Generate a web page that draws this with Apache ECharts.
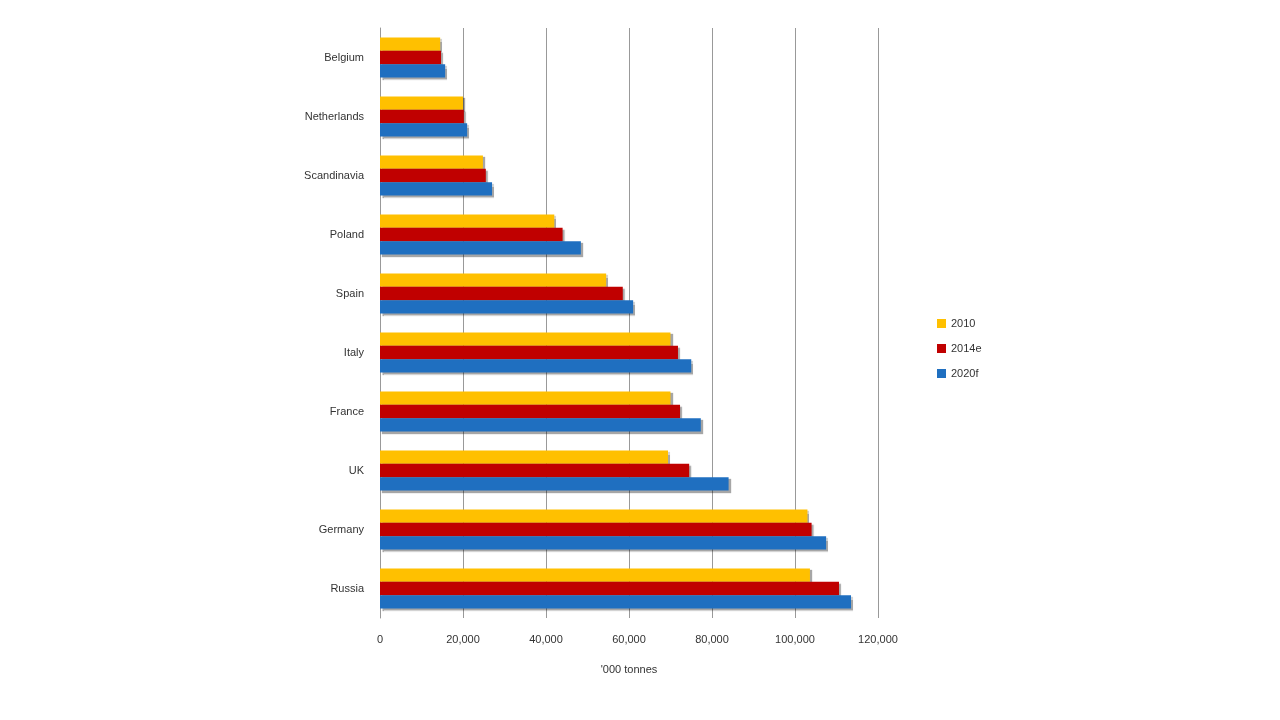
<!DOCTYPE html>
<html><head><meta charset="utf-8">
<script src="https://cdn.jsdelivr.net/npm/echarts@6/dist/echarts.min.js"></script>
<style>html,body{margin:0;background:#fff}#c{width:1280px;height:720px}</style>
</head><body><div id="c"></div>
<script>
const categories = ['Russia','Germany','UK','France','Italy','Spain','Poland','Scandinavia','Netherlands','Belgium'];
const s2010 = [103.6,103,69.4,70,70,54.5,42,24.8,20,14.5].map(v=>v*1000);
const s2014 = [110.6,104,74.5,72.3,71.8,58.5,44,25.5,20.2,14.7].map(v=>v*1000);
const s2020 = [113.5,107.5,84,77.3,75,61,48.4,27,21,15.7].map(v=>v*1000);
const ticks = [0,20000,40000,60000,80000,100000,120000];
const chart = echarts.init(document.getElementById('c'));
const font = {fontFamily:'Liberation Sans', fontSize:11, color:'#333'};
function mk(name,data,color){return {name,type:'bar',data,barGap:'0%',barCategoryGap:'32%',
  itemStyle:{color,shadowColor:'rgba(0,0,0,0.35)',shadowOffsetX:2,shadowOffsetY:2,shadowBlur:1}};}
chart.setOption({
  animation:false,
  grid:{left:380,right:402,top:28,bottom:102},
  legend:{orient:'vertical',left:932,top:313,itemWidth:9,itemHeight:9,itemGap:14,
    icon:'rect',textStyle:font,data:['2010','2014e','2020f']},
  xAxis:{type:'value',min:0,max:120000,interval:20000,
    name:"'000 tonnes",nameLocation:'middle',nameGap:46,nameTextStyle:font,
    axisLabel:Object.assign({margin:16,formatter:v=>v.toLocaleString('en-US')},font),
    splitLine:{lineStyle:{color:'#999'}},axisLine:{show:false},axisTick:{show:false}},
  yAxis:{type:'category',data:categories,axisLabel:Object.assign({margin:16},font),
    axisLine:{lineStyle:{color:'#999'}},axisTick:{show:false}},
  series:[mk('2010',s2010,'#FFC000'),mk('2014e',s2014,'#C00000'),mk('2020f',s2020,'#1F6FC0')]
});
</script></body></html>
